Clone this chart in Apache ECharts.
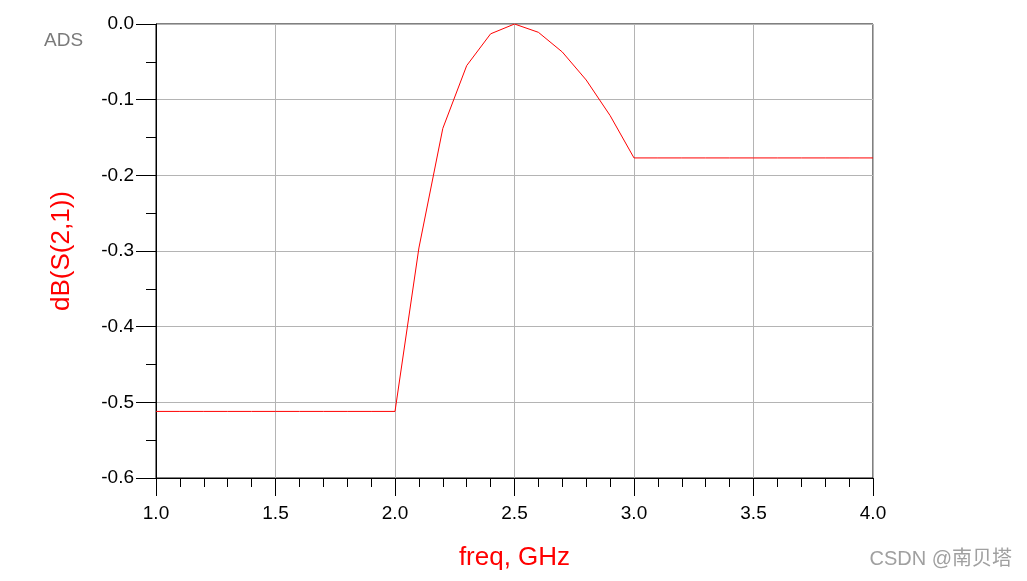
<!DOCTYPE html>
<html>
<head>
<meta charset="utf-8">
<style>html,body{margin:0;padding:0;background:#fff;}#chart{width:1027px;height:581px;}</style>
<script src="https://cdn.jsdelivr.net/npm/echarts@6/dist/echarts.min.js"></script>
</head>
<body>
<div id="chart"></div>
<script>
const freqGHz = [1.0, 1.1, 1.2, 1.3, 1.4, 1.5, 1.6, 1.7, 1.8, 1.9, 2.0, 2.1, 2.2, 2.3, 2.4, 2.5, 2.6, 2.7, 2.8, 2.9, 3.0, 3.1, 3.2, 3.3, 3.4, 3.5, 3.6, 3.7, 3.8, 3.9, 4.0];
const dBS21 = [-0.512, -0.512, -0.512, -0.512, -0.512, -0.512, -0.512, -0.512, -0.512, -0.512, -0.512, -0.296, -0.138, -0.055, -0.013, 0.0, -0.011, -0.037, -0.074, -0.121, -0.177, -0.177, -0.177, -0.177, -0.177, -0.177, -0.177, -0.177, -0.177, -0.177, -0.177];
const xTickLabels = ['1.0', '1.5', '2.0', '2.5', '3.0', '3.5', '4.0'];
const yTickLabels = ['-0.6', '-0.5', '-0.4', '-0.3', '-0.2', '-0.1', '0.0'];

const chart = echarts.init(document.getElementById('chart'), null, {renderer: 'canvas'});
const font = 'Liberation Sans, Arial, sans-serif';
chart.setOption({
  animation: false,
  grid: {left: 156, right: 154, top: 24, bottom: 103, show: true, borderColor: '#000', borderWidth: 1, backgroundColor: 'transparent', containLabel: false, outerBoundsMode: 'none'},
  xAxis: {
    type: 'value', min: 1.0, max: 4.0, interval: 0.5,
    name: 'freq, GHz', nameLocation: 'middle', nameGap: 67,
    nameTextStyle: {color: '#ff0000', fontSize: 26, fontFamily: font},
    axisLine: {show: true, onZero: false, lineStyle: {color: '#000', width: 1}},
    axisTick: {show: true, inside: false, length: 18, lineStyle: {color: '#000', width: 1}},
    minorTick: {show: true, splitNumber: 5, length: 9, lineStyle: {color: '#000', width: 1}},
    axisLabel: {margin: 26, color: '#000', fontSize: 19, fontFamily: font,
      formatter: v => xTickLabels.find(s => Math.abs(parseFloat(s) - v) < 1e-6) || ''},
    splitLine: {show: true, lineStyle: {color: '#b4b4b4', width: 1}}
  },
  yAxis: {
    type: 'value', min: -0.6, max: 0.0, interval: 0.1,
    name: 'dB(S(2,1))', nameLocation: 'middle', nameGap: 81,
    nameTextStyle: {color: '#ff0000', fontSize: 26, fontFamily: font},
    axisLine: {show: true, onZero: false, lineStyle: {color: '#000', width: 1}},
    axisTick: {show: true, inside: false, length: 20, lineStyle: {color: '#000', width: 1}},
    minorTick: {show: true, splitNumber: 2, length: 10, lineStyle: {color: '#000', width: 1}},
    axisLabel: {margin: 22, color: '#000', fontSize: 19, fontFamily: font,
      formatter: v => yTickLabels.find(s => Math.abs(parseFloat(s) - v) < 1e-6) || ''},
    splitLine: {show: true, lineStyle: {color: '#b4b4b4', width: 1}}
  },
  graphic: [
    {type: 'text', left: 44, top: 31, style: {text: 'ADS', fill: '#7a7a7a', font: '19px ' + font, shadowColor: 'rgba(0,0,0,0.25)', shadowOffsetX: 1, shadowOffsetY: 1, shadowBlur: 1}},
    {type: 'text', right: 15, top: 549, style: {text: 'CSDN @南贝塔', fill: '#a0a0a0', font: '20px ' + font + ', Noto Sans CJK SC'}}
  ],
  series: [{
    type: 'line',
    data: freqGHz.map((f, i) => [f, dBS21[i]]),
    showSymbol: false,
    lineStyle: {color: '#ff0000', width: 1},
    itemStyle: {color: '#ff0000'}
  }]
});
</script>
</body>
</html>
